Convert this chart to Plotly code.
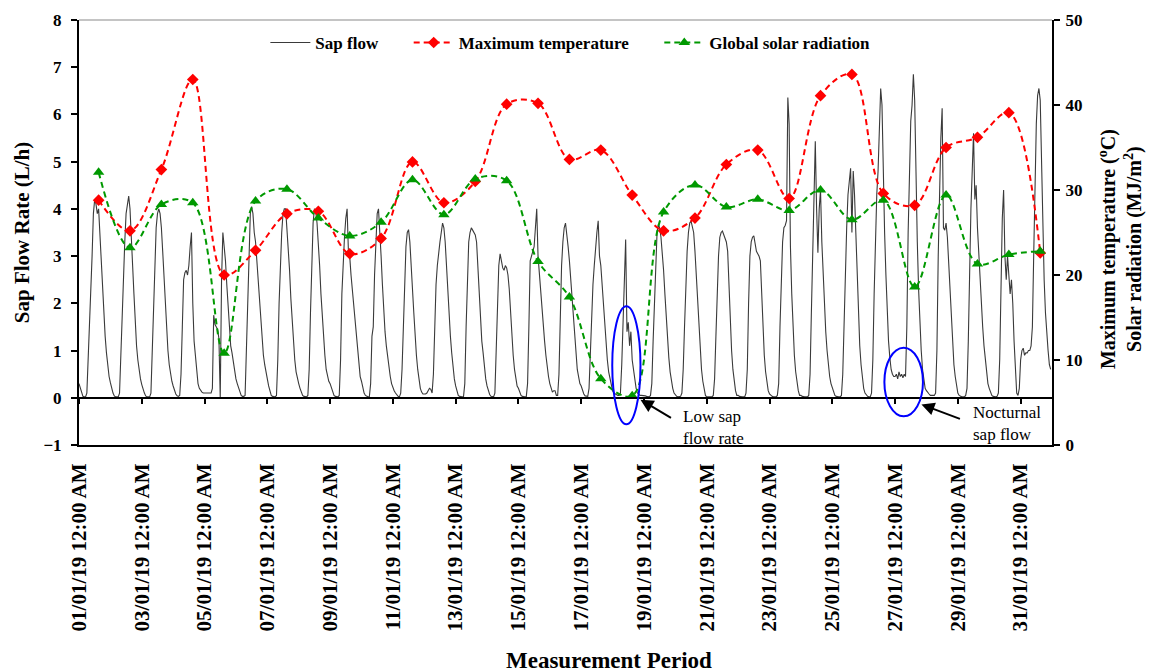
import pandas as pd
import plotly.graph_objects as go

# ---------------- data ----------------
# hourly sap flow (L/h), one row of 24 values per day, 1-31 January 2019
sap_d01 = [0.30,0.20,0.08,0.03,0.02,0.02,0.10,0.80,1.60,2.00,3.00,3.90,4.20,4.10,3.90,4.00,3.40,3.00,2.30,1.80,1.30,0.95,0.65,0.45]
sap_d02 = [0.32,0.20,0.10,0.04,0.02,0.02,0.02,0.10,0.90,2.00,2.60,3.30,3.90,4.10,4.27,4.00,3.50,2.80,2.20,1.60,1.10,0.80,0.55,0.40]
sap_d03 = [0.28,0.18,0.10,0.04,0.02,0.02,0.02,0.10,1.00,2.20,3.00,3.60,3.90,4.00,3.90,3.60,3.10,2.50,1.90,1.40,1.00,0.70,0.50,0.35]
sap_d04 = [0.25,0.15,0.08,0.04,0.03,0.05,0.50,1.50,2.50,2.65,2.70,2.60,2.80,3.20,3.50,2.00,1.20,0.90,0.50,0.30,0.20,0.15,0.12,0.10]
sap_d05 = [0.10,0.10,0.10,0.10,0.10,0.10,0.20,1.75,1.55,1.50,1.45,1.25,0.00,2.50,3.50,3.20,2.90,2.40,1.90,1.35,1.10,0.95,0.75,0.55]
sap_d06 = [0.40,0.30,0.20,0.10,0.05,0.03,0.03,0.05,1.00,2.00,3.00,3.90,4.05,3.90,3.50,3.30,2.90,2.50,1.90,1.50,1.20,0.90,0.70,0.50]
sap_d07 = [0.40,0.25,0.12,0.05,0.03,0.02,0.02,0.05,0.80,2.00,2.90,3.50,3.90,4.00,4.00,3.60,3.20,2.70,2.10,1.60,1.10,0.80,0.55,0.40]
sap_d08 = [0.30,0.20,0.10,0.05,0.03,0.02,0.02,0.05,0.60,1.80,2.90,3.70,4.00,3.95,3.70,3.30,2.80,2.20,1.70,1.25,0.90,0.60,0.45,0.35]
sap_d09 = [0.30,0.20,0.10,0.05,0.03,0.02,0.02,0.05,0.80,2.20,3.00,3.40,3.80,4.00,3.10,3.00,2.60,2.30,2.00,1.60,1.30,1.00,0.70,0.45]
sap_d10 = [0.35,0.20,0.10,0.05,0.03,0.02,0.02,0.30,1.30,1.50,2.60,3.50,3.90,4.00,3.60,3.00,2.40,1.80,1.40,1.10,0.85,0.60,0.45,0.30]
sap_d11 = [0.20,0.15,0.10,0.05,0.03,0.02,0.10,0.60,1.50,2.50,3.20,3.50,3.56,3.30,2.90,2.30,1.80,1.30,0.90,0.60,0.35,0.20,0.12,0.08]
sap_d12 = [0.08,0.08,0.10,0.15,0.20,0.18,0.10,0.50,1.60,2.40,2.80,3.10,3.30,3.50,3.70,3.60,3.30,2.80,2.20,1.70,1.30,0.95,0.60,0.40]
sap_d13 = [0.25,0.12,0.05,0.03,0.02,0.02,0.02,0.30,1.50,2.60,3.30,3.50,3.60,3.55,3.50,3.45,3.30,2.70,2.10,1.60,1.20,0.95,0.60,0.40]
sap_d14 = [0.25,0.15,0.07,0.03,0.02,0.02,0.10,1.00,2.00,2.80,3.05,2.90,2.75,2.70,2.80,2.75,2.60,2.30,1.80,1.30,0.90,0.60,0.40,0.25]
sap_d15 = [0.20,0.10,0.05,0.03,0.02,0.02,0.02,0.30,1.50,2.90,3.00,3.10,3.20,3.60,4.00,3.00,2.60,2.20,1.80,1.50,1.20,0.90,0.60,0.45]
sap_d16 = [0.30,0.20,0.12,0.15,0.15,0.05,0.05,0.50,1.80,2.80,3.30,3.60,3.70,3.35,3.20,2.90,2.50,2.00,1.60,1.20,0.90,0.60,0.45,0.30]
sap_d17 = [0.25,0.15,0.08,0.04,0.03,0.03,0.20,1.00,2.00,2.40,2.80,3.20,3.50,3.75,3.00,2.80,2.40,2.00,1.50,1.10,0.80,0.55,0.40,0.25]
sap_d18 = [0.15,0.10,0.08,0.06,0.05,0.05,0.10,0.70,1.60,2.50,3.35,1.40,1.60,1.10,1.40,0.80,0.60,0.35,0.20,0.10,0.08,0.05,0.05,0.05]
sap_d19 = [0.05,0.04,0.03,0.02,0.02,0.05,0.30,1.20,2.00,2.80,3.50,3.67,3.60,3.40,3.10,2.70,2.20,1.70,1.20,0.85,0.55,0.35,0.20,0.10]
sap_d20 = [0.05,0.03,0.02,0.02,0.03,0.10,0.60,1.50,2.40,3.10,3.50,3.70,3.74,3.60,3.50,3.10,2.60,2.00,1.50,1.00,0.60,0.35,0.15,0.05]
sap_d21 = [0.02,0.02,0.02,0.02,0.02,0.05,0.40,1.30,2.30,3.00,3.40,3.50,3.53,3.45,3.40,3.30,3.10,2.30,1.60,1.00,0.60,0.35,0.15,0.05]
sap_d22 = [0.05,0.03,0.02,0.02,0.02,0.02,0.10,0.60,2.00,3.00,3.30,3.40,3.43,3.25,3.10,3.05,3.00,2.90,2.20,1.40,0.90,0.55,0.30,0.15]
sap_d23 = [0.08,0.05,0.03,0.02,0.02,0.02,0.05,0.30,1.50,2.60,3.30,3.60,3.65,3.75,6.36,5.80,3.20,2.20,1.40,0.90,0.55,0.30,0.15,0.05]
sap_d24 = [0.05,0.03,0.02,0.02,0.02,0.02,0.05,0.50,1.80,3.00,4.20,5.43,4.00,3.07,4.00,4.40,3.30,2.60,2.00,1.40,1.00,0.70,0.45,0.30]
sap_d25 = [0.20,0.10,0.05,0.03,0.02,0.02,0.02,0.05,0.50,1.60,2.80,3.60,4.30,4.60,4.86,3.50,4.80,4.30,3.40,2.50,1.70,1.10,0.70,0.45]
sap_d26 = [0.20,0.10,0.05,0.03,0.02,0.02,0.10,0.80,2.20,3.50,4.30,4.80,5.80,6.55,6.20,4.60,3.50,2.60,1.80,1.20,0.85,0.60,0.50,0.45]
sap_d27 = [0.45,0.50,0.40,0.55,0.45,0.50,0.42,0.50,0.45,1.50,3.50,5.00,5.86,6.20,6.85,6.30,4.50,3.30,2.30,1.50,1.00,0.60,0.35,0.20]
sap_d28 = [0.15,0.10,0.08,0.05,0.05,0.05,0.05,0.10,1.00,3.00,4.50,5.50,6.13,3.60,3.55,3.70,3.40,2.80,2.20,1.60,1.10,0.70,0.45,0.25]
sap_d29 = [0.10,0.05,0.03,0.02,0.02,0.02,0.05,0.20,1.20,2.80,4.00,4.80,5.60,4.20,4.50,3.60,3.00,2.50,2.00,1.50,1.10,0.80,0.50,0.30]
sap_d30 = [0.20,0.10,0.05,0.03,0.02,0.02,0.03,0.10,0.80,2.50,3.80,4.40,3.00,2.50,3.00,2.60,2.20,2.50,2.00,1.20,0.50,0.10,0.05,0.20]
sap_d31 = [0.80,1.00,1.05,0.90,0.95,0.95,1.00,1.00,1.10,1.50,3.00,4.50,5.80,6.40,6.55,6.30,5.00,3.50,2.50,1.80,1.30,1.00,0.70,0.60]

# daily maximum temperature (deg C) and global solar radiation (MJ/m2)
max_temperature = [28.8, 25.2, 32.4, 43.0, 20.0, 22.9, 27.2, 27.5, 22.5, 24.3, 33.3,
                   28.5, 31.0, 40.1, 40.2, 33.6, 34.7, 29.4, 25.2, 26.7, 33.0, 34.7,
                   29.0, 41.1, 43.6, 29.6, 28.2, 35.0, 36.2, 39.1, 22.6]
solar_radiation = [32.1, 23.2, 28.3, 28.5, 10.8, 28.7, 30.1, 26.7, 24.6, 26.2, 31.2,
                   27.1, 31.3, 31.1, 21.6, 17.4, 7.8, 5.8, 27.4, 30.6, 28.0, 28.9,
                   27.6, 30.0, 26.5, 28.8, 18.6, 29.4, 21.3, 22.4, 22.8]

tick_dates = ["2019-01-01", "2019-01-03", "2019-01-05", "2019-01-07", "2019-01-09",
              "2019-01-11", "2019-01-13", "2019-01-15", "2019-01-17", "2019-01-19",
              "2019-01-21", "2019-01-23", "2019-01-25", "2019-01-27", "2019-01-29",
              "2019-01-31"]
tick_labels = ["01/01/19 12:00 AM", "03/01/19 12:00 AM", "05/01/19 12:00 AM",
               "07/01/19 12:00 AM", "09/01/19 12:00 AM", "11/01/19 12:00 AM",
               "13/01/19 12:00 AM", "15/01/19 12:00 AM", "17/01/19 12:00 AM",
               "19/01/19 12:00 AM", "21/01/19 12:00 AM", "23/01/19 12:00 AM",
               "25/01/19 12:00 AM", "27/01/19 12:00 AM", "29/01/19 12:00 AM",
               "31/01/19 12:00 AM"]

# ---------------- assemble ----------------
sap_days = [sap_d01, sap_d02, sap_d03, sap_d04, sap_d05, sap_d06, sap_d07, sap_d08,
            sap_d09, sap_d10, sap_d11, sap_d12, sap_d13, sap_d14, sap_d15, sap_d16,
            sap_d17, sap_d18, sap_d19, sap_d20, sap_d21, sap_d22, sap_d23, sap_d24,
            sap_d25, sap_d26, sap_d27, sap_d28, sap_d29, sap_d30, sap_d31]
sap_flow = [v for day in sap_days for v in day]
sap_time = pd.date_range("2019-01-01 00:00", periods=len(sap_flow), freq="h")
daily_time = pd.date_range("2019-01-01 15:00", periods=len(max_temperature), freq="D")

FONT = "Liberation Serif, Times New Roman, serif"
X_RANGE = ["2019-01-01 00:00", "2019-02-01 00:00"]
NBSP = "\u00a0"

fig = go.Figure()

fig.add_trace(go.Scatter(
    x=sap_time, y=sap_flow, name="Sap flow" + NBSP * 6, mode="lines",
    line=dict(color="#3a3a3a", width=1.1),
    xaxis="x", yaxis="y"))

fig.add_trace(go.Scatter(
    x=daily_time, y=max_temperature, name="Maximum temperature" + NBSP * 6,
    mode="lines+markers",
    line=dict(color="#ff0000", width=2, dash="6px,4px", shape="spline", smoothing=1.0),
    marker=dict(symbol="diamond", size=9, color="#ff0000"),
    xaxis="x2", yaxis="y2"))

fig.add_trace(go.Scatter(
    x=daily_time, y=solar_radiation, name="Global solar radiation",
    mode="lines+markers",
    line=dict(color="#009900", width=2, dash="6px,4px", shape="spline", smoothing=1.0),
    marker=dict(symbol="triangle-up", size=10, color="#009900"),
    xaxis="x2", yaxis="y2"))

axis_font = dict(family=FONT, size=17, color="black", weight="bold")

fig.update_layout(
    width=1149, height=672,
    margin=dict(l=79, r=97, t=20, b=227),
    paper_bgcolor="white", plot_bgcolor="white",
    font=dict(family=FONT, color="black"),
    showlegend=True,
    legend=dict(orientation="h", x=0.505, xanchor="center", y=0.946, yanchor="middle",
                font=dict(family=FONT, size=17, color="black", weight="bold"),
                bgcolor="rgba(0,0,0,0)", itemwidth=40, traceorder="normal"),
    # bottom axis carrying the date labels
    xaxis=dict(type="date", range=X_RANGE, anchor="y", side="bottom",
               showline=True, linecolor="black", linewidth=2,
               ticks="", tickvals=tick_dates, ticktext=tick_labels,
               tickangle=-90, tickfont=dict(family=FONT, size=21, color="black", weight="bold"),
               ticklabelstandoff=8, showgrid=False, zeroline=False),
    # axis drawn at y = 0 with the day ticks
    xaxis2=dict(type="date", range=X_RANGE, overlaying="x", anchor="free", position=1/9,
                showline=True, linecolor="black", linewidth=2,
                ticks="outside", ticklen=5, tickwidth=2, tickcolor="black",
                tickvals=tick_dates, showticklabels=False, showgrid=False,
                zeroline=False),
    yaxis=dict(range=[-1, 8], tickvals=list(range(-1, 9)), anchor="x",
               showline=True, linecolor="black", linewidth=2,
               ticks="outside", ticklen=6, tickwidth=2, tickcolor="black",
               tickfont=axis_font, ticklabelstandoff=6, showgrid=False, zeroline=False,
               title=dict(text="Sap Flow Rate (L/h)",
                          font=dict(family=FONT, size=21, color="black", weight="bold"),
                          standoff=8)),
    yaxis2=dict(range=[0, 50], tickvals=[0, 10, 20, 30, 40, 50], overlaying="y",
                side="right", anchor="x",
                showline=True, linecolor="black", linewidth=2,
                ticks="outside", ticklen=6, tickwidth=2, tickcolor="black",
                tickfont=axis_font, ticklabelstandoff=2, showgrid=False, zeroline=False),
)

# right axis title (two lines)
fig.add_annotation(xref="paper", yref="paper", x=1.0705, y=0.46, textangle=-90,
                   text="Maximum temperature (<sup>o</sup>C)<br>Solar radiation (MJ/m<sup>2</sup>)",
                   showarrow=False, xanchor="center", yanchor="middle",
                   font=dict(family=FONT, size=20, color="black", weight="bold"))
# x axis title
fig.add_annotation(xref="paper", yref="paper", x=0.545, y=-0.506,
                   text="Measurement Period", showarrow=False,
                   xanchor="center", yanchor="middle",
                   font=dict(family=FONT, size=23, color="black", weight="bold"))

# light top border of the plot area
fig.add_shape(type="line", xref="paper", yref="paper", x0=0, x1=1, y0=1, y1=1,
              line=dict(color="#b0b0b0", width=1.5))

# blue ellipses
fig.add_shape(type="circle", xref="x", yref="y",
              x0="2019-01-17 23:45", x1="2019-01-18 21:20", y0=-0.56, y1=1.94,
              line=dict(color="#0000ff", width=2))
fig.add_shape(type="circle", xref="x", yref="y",
              x0="2019-01-26 15:50", x1="2019-01-27 21:20", y0=-0.39, y1=1.06,
              line=dict(color="#0000ff", width=2))

note_font = dict(family=FONT, size=17, color="black")
# arrows
fig.add_annotation(x="2019-01-18 21:20", y=-0.04, xref="x", yref="y",
                   text="", showarrow=True, arrowhead=2, arrowsize=1.3, arrowwidth=2,
                   arrowcolor="black", ax=32, ay=19)
fig.add_annotation(x="2019-01-27 20:10", y=-0.14, xref="x", yref="y",
                   text="", showarrow=True, arrowhead=2, arrowsize=1.3, arrowwidth=2,
                   arrowcolor="black", ax=40, ay=15)
# notes
fig.add_annotation(x="2019-01-20 04:00", y=-0.62, xref="x", yref="y",
                   text="Low sap<br>flow rate", showarrow=False, xanchor="left",
                   yanchor="middle", align="left", font=note_font)
fig.add_annotation(x="2019-01-29 10:20", y=-0.55, xref="x", yref="y",
                   text="Nocturnal<br>sap flow", showarrow=False, xanchor="left",
                   yanchor="middle", align="left", font=note_font)

fig.write_html("out.html")
